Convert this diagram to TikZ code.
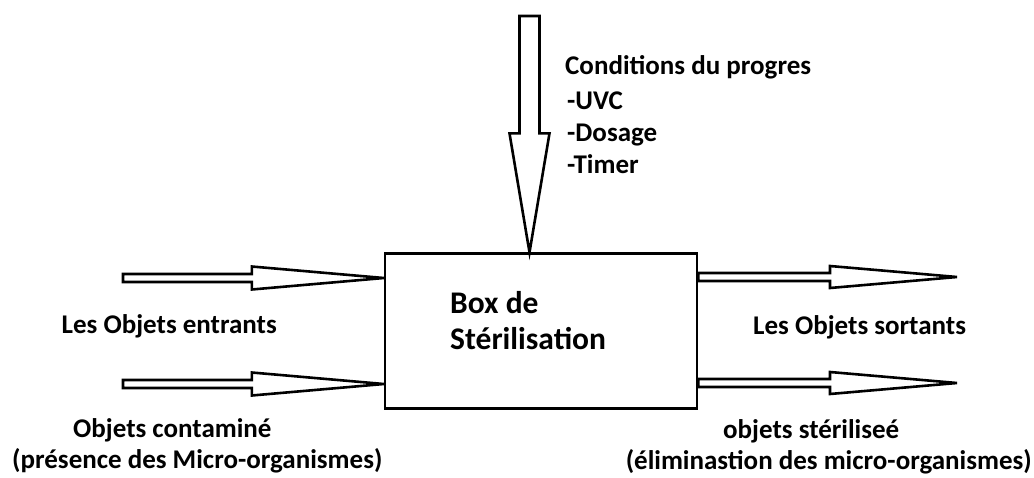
\documentclass[tikz,border=0pt]{standalone}
\usepackage{fontspec}
\setmainfont{Carlito}
\usetikzlibrary{calc}

\tikzset{
  arrowline/.style={line width=2.6pt, line join=miter},
  sterilbox/.style={draw, line width=2.4pt, minimum width=312pt, minimum height=155pt, inner sep=0pt},
  lbl/.style={inner sep=0pt, font=\fontsize{27}{32}\selectfont\bfseries},
  boxlbl/.style={inner sep=0pt, font=\fontsize{31.5}{37}\selectfont\bfseries},
}

% tail, tip, angle, half shaft, half head, head length
\newcommand{\hollowarrow}[6]{%
  \begin{scope}[shift={(#1)},rotate=#3]
    \draw[arrowline] let \p1=($(#2)-(#1)$), \n1={veclen(\x1,\y1)} in
      (0,-#4) -- ({\n1-#6},-#4) -- ({\n1-#6},-#5) -- (\n1,0)
      -- ({\n1-#6},#5) -- ({\n1-#6},#4) -- (0,#4) -- cycle;
  \end{scope}}

\begin{document}
\begin{tikzpicture}[x=1pt,y=-1pt]
  \useasboundingbox (0,0) rectangle (1034,477);
  \node[sterilbox] (box) at (541,331) {};
  \node[boxlbl, anchor=base west] (boxde) at (450,313) {Box de};
  \node[boxlbl, anchor=base west] (steril) at (450,349) {Stérilisation};

  % entrees
  \coordinate (in1) at (123,278);
  \coordinate (in2) at (123,384);
  \coordinate (in1tip) at (in1 -| box.west);
  \coordinate (in2tip) at (in2 -| box.west);
  \hollowarrow{in1}{in1tip}{0}{4}{11.5}{132}
  \hollowarrow{in2}{in2tip}{0}{4}{11.5}{132}

  % sorties
  \coordinate (out1) at (957,277);
  \coordinate (out2) at (957,383);
  \coordinate (out1tail) at (out1 -| box.east);
  \coordinate (out2tail) at (out2 -| box.east);
  \hollowarrow{out1tail}{out1}{0}{4}{11}{127}
  \hollowarrow{out2tail}{out2}{0}{4}{11}{127}

  % conditions
  \coordinate (ctrl) at (529.5,16);
  \coordinate (ctrltip) at (ctrl |- box.north);
  \hollowarrow{ctrl}{ctrltip}{-90}{10}{20}{119}

  \node[lbl, anchor=base west] (cond) at (565,74) {Conditions du progres};
  \node[lbl, anchor=base west] (uvc) at (567,109) {-UVC};
  \node[lbl, anchor=base west] (dosage) at (567,141) {-Dosage};
  \node[lbl, anchor=base west] (timer) at (567,173) {-Timer};

  \node[lbl, anchor=base east] (entrants) at (277,333) {Les Objets entrants};
  \node[lbl, anchor=base west] (contam) at (73,437) {Objets contaminé};
  \node[lbl, anchor=base west] (presence) at (12,468) {(présence des Micro-organismes)};

  \node[lbl, anchor=base west] (sortants) at (753,334) {Les Objets sortants};
  \node[lbl, anchor=base west] (sterilise) at (723,438) {objets stériliseé};
  \node[lbl, anchor=base east] (elim) at (1032,469) {(éliminastion des micro-organismes)};
\end{tikzpicture}
\end{document}
